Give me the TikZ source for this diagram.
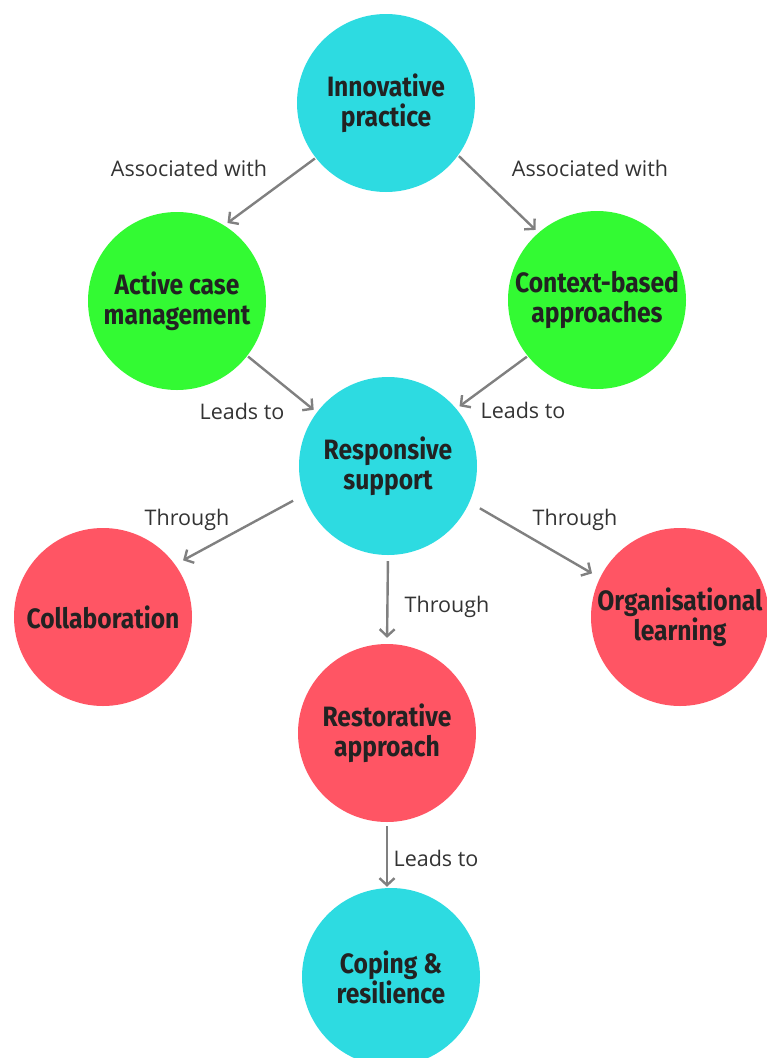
\documentclass[tikz,border=0pt]{standalone}
\usepackage{fontspec}
\setmainfont{Open Sans}
\newfontfamily\headfont[FakeStretch=0.88]{Fira Sans}
\usetikzlibrary{arrows.meta}
\definecolor{cyanfill}{RGB}{45,219,225}
\definecolor{greenfill}{RGB}{51,250,51}
\definecolor{redfill}{RGB}{255,85,100}
\definecolor{linkgray}{RGB}{128,128,128}
\definecolor{inkdark}{RGB}{34,34,34}
\definecolor{labelink}{RGB}{51,51,51}
\tikzset{
  topic/.style={circle, minimum size=178pt, inner sep=0pt, align=center,
    text=inkdark, font=\headfont\bfseries\fontsize{28}{30}\selectfont},
  blue topic/.style={topic, fill=cyanfill},
  green topic/.style={topic, fill=greenfill},
  red topic/.style={topic, fill=redfill},
  link/.style={draw=linkgray, line width=2.4pt,
    -{Straight Barb[length=7pt,width=15pt,line width=2.4pt]},
    shorten <=1pt, shorten >=4pt},
  far link/.style={link, shorten <=12pt, shorten >=9pt},
  linklabel/.style={font=\fontsize{21.5}{25}\selectfont, text=labelink}
}
\begin{document}
\begin{tikzpicture}[x=1pt,y=-1pt]
\useasboundingbox (0,0) rectangle (767,1058);

\node[blue topic]  (innov)   at (386,103) {Innovative\\practice};
\node[green topic] (active)  at (177,301) {Active case\\management};
\node[green topic] (context) at (597,300) {Context-based\\approaches};
\node[blue topic]  (resp)    at (388,466) {Responsive\\support};
\node[red topic]   (collab)  at (103,617) {Collaboration};
\node[red topic]   (org)     at (680,617) {Organisational\\learning};
\node[red topic]   (rest)    at (387,733) {Restorative\\approach};
\node[blue topic]  (coping)  at (391,977) {Coping \&\\resilience};

\draw[link] (innov.218) -- (active.58);
\draw[link] (innov.324) -- (context.131);
\draw[link] (active.322) -- (resp.143);
\draw[link] (context.219) -- (resp.40);
\draw[far link] (resp.199) -- (collab.36);
\draw[far link] (resp.336) -- (org.154);
\draw[link, shorten <=6pt, shorten >=6pt] (resp.south) -- (rest.north);
\draw[link, shorten <=4pt, shorten >=1pt] (rest.south) -- (rest.south |- coping.north);

\node[linklabel] (l1) at (189,168) {Associated with};
\node[linklabel] (l2) at (590,168) {Associated with};
\node[linklabel] (l3) at (242,411) {Leads to};
\node[linklabel] (l4) at (523,410) {Leads to};
\node[linklabel] (l5) at (187,520) {Through};
\node[linklabel] (l6) at (575,520) {Through};
\node[linklabel] (l7) at (447,607) {Through};
\node[linklabel] (l8) at (436,858) {Leads to};
\end{tikzpicture}
\end{document}
